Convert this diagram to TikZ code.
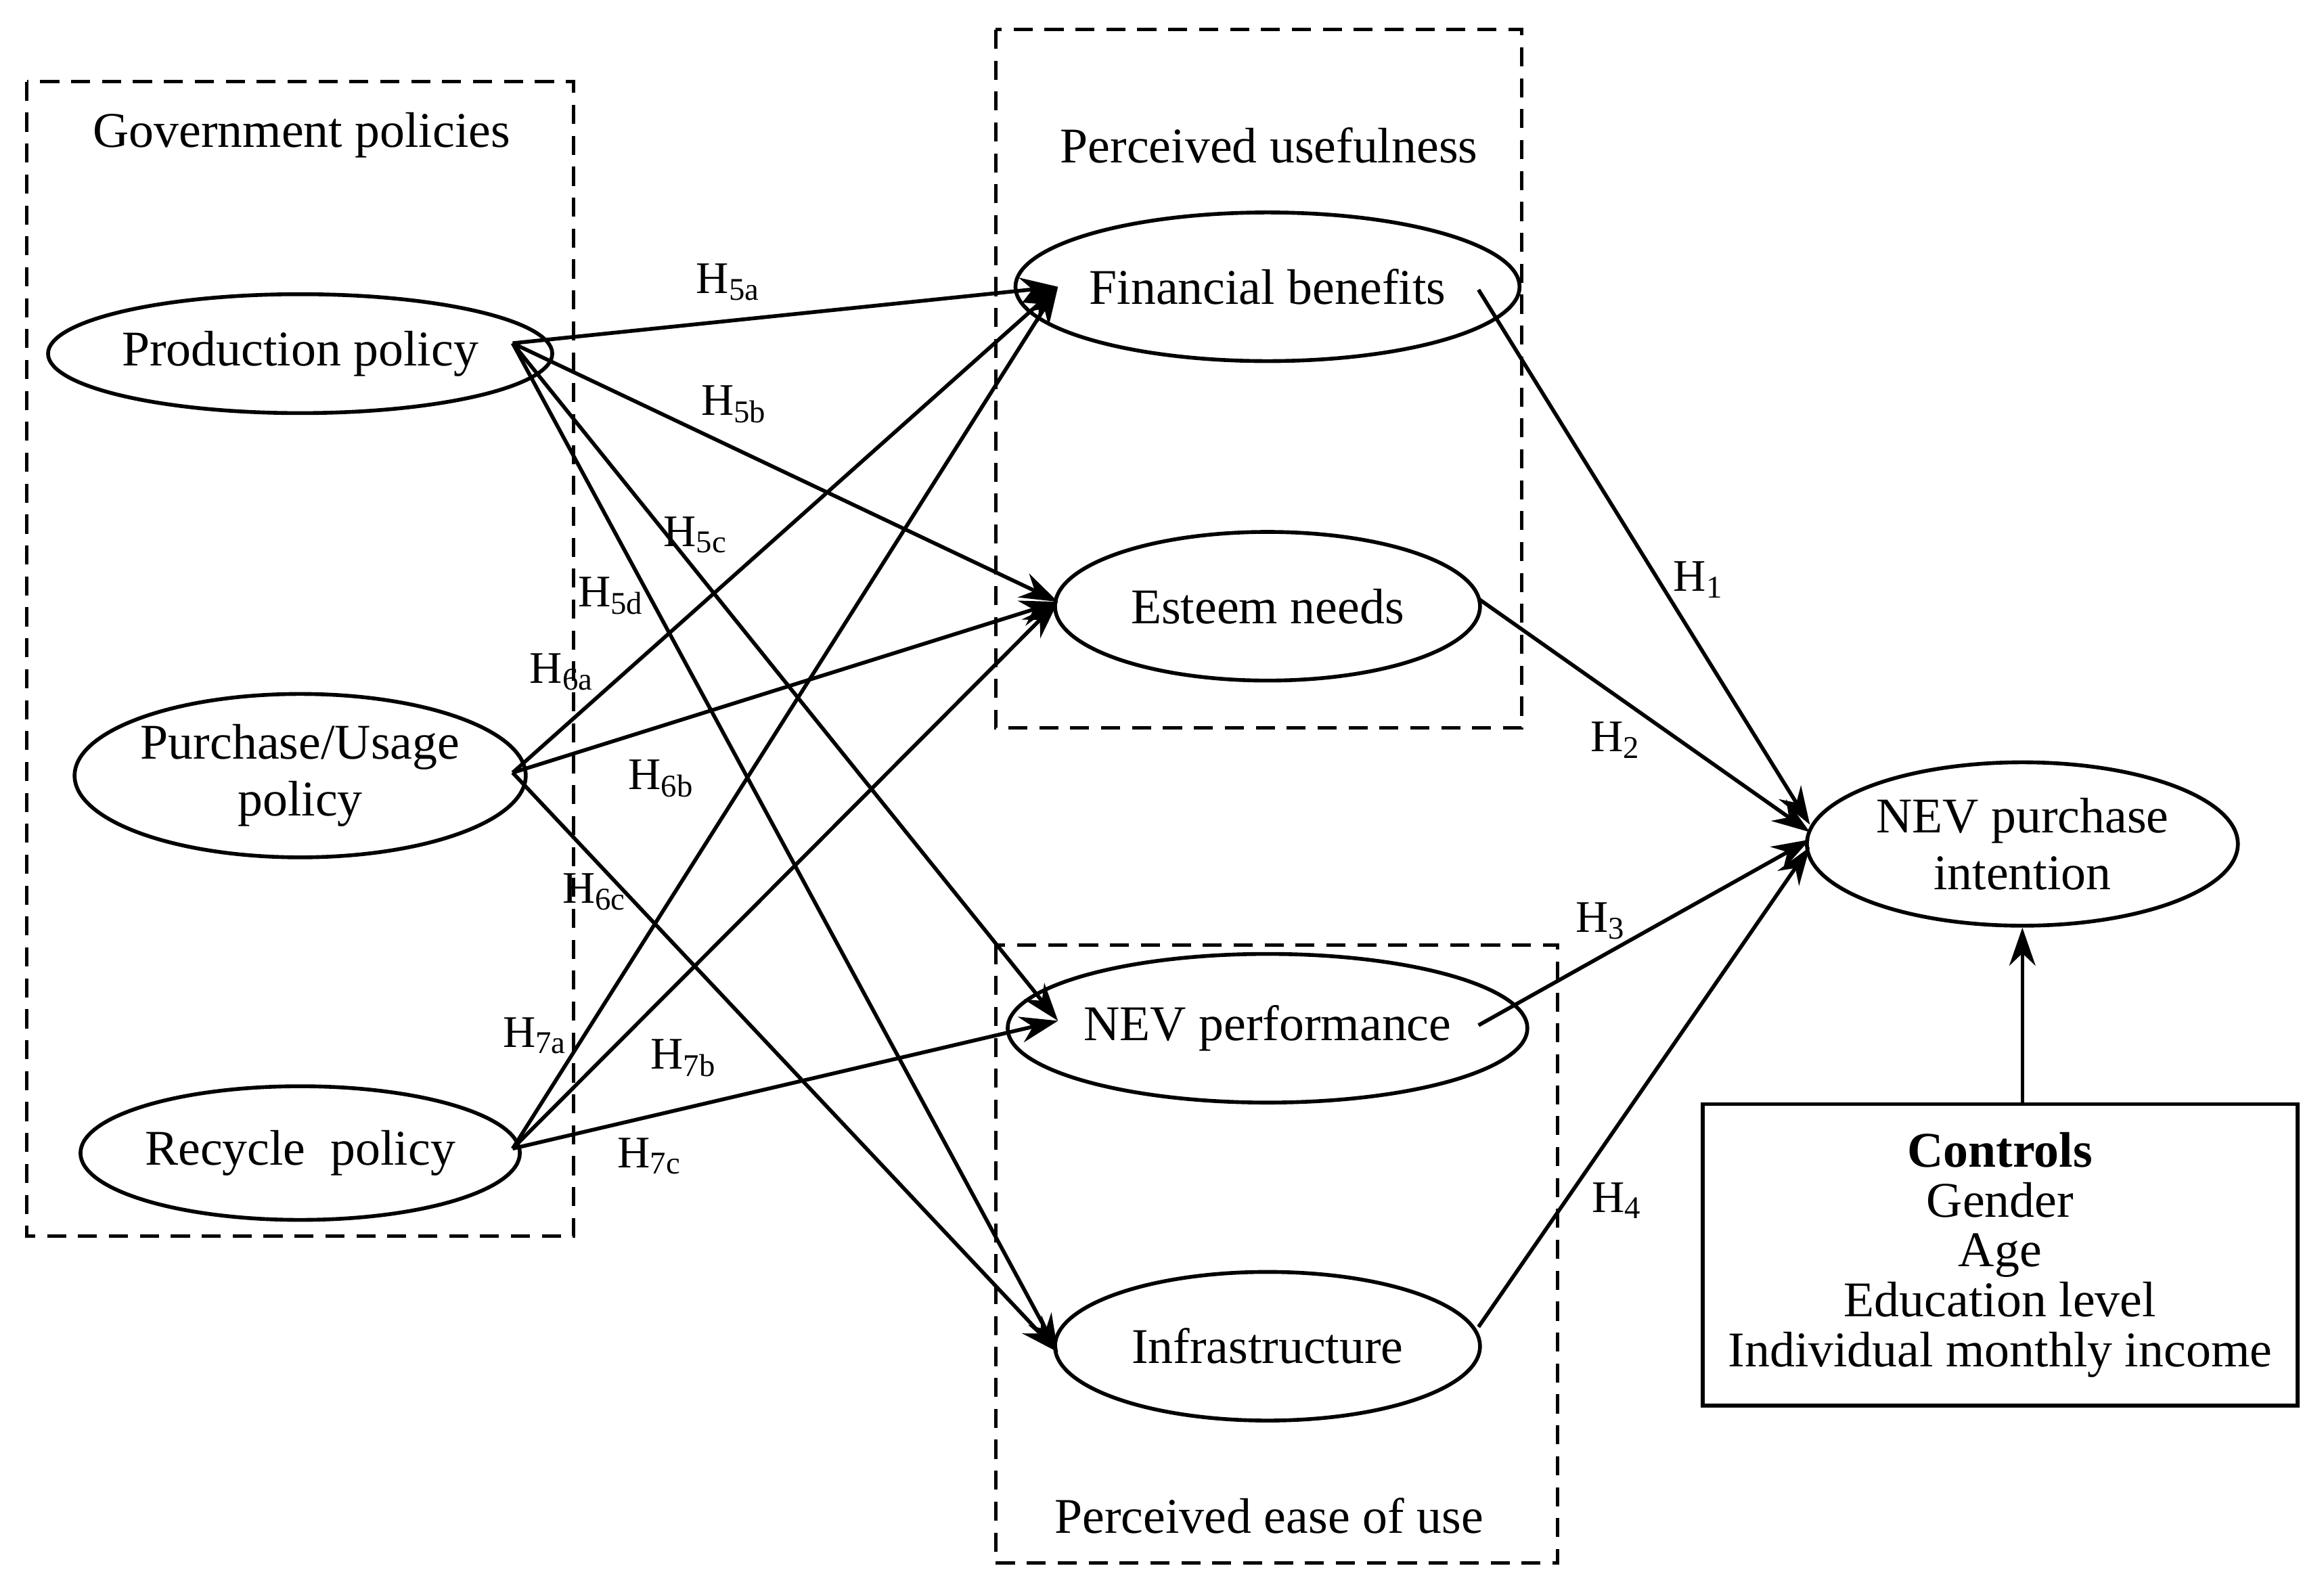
\documentclass[tikz,border=0pt]{standalone}
\usepackage{fontspec}
\setmainfont{Liberation Serif}
\usetikzlibrary{shapes.geometric,arrows.meta}
\begin{document}
\begin{tikzpicture}[x=0.02196cm,y=-0.02196cm,
  every node/.style={font=\fontsize{21}{24}\selectfont},
  el/.style={draw,ellipse,line width=1.6pt,inner sep=0pt},
  box/.style={draw,dashed,line width=1.4pt,dash pattern=on 8pt off 5pt},
  ar/.style={line width=1.6pt,-{Stealth[length=16pt,width=11pt]}},
  lab/.style={font=\fontsize{19}{22}\selectfont}]
\useasboundingbox (0,0) rectangle (1564,1069);
\draw[box] (18,55) rectangle (386,832);
\draw[box] (670,20) rectangle (1024,490);
\draw[box] (670,636) rectangle (1048,1052);
\node (tg) at (203,91) {Government policies};
\node (tu) at (854,98) {Perceived usefulness};
\node (te) at (854,1020) {Perceived ease of use};
\node[el,minimum width=178.7pt,minimum height=50pt] (pp) at (202,238) {Production policy};
\node[el,minimum width=178.7pt,minimum height=68.7pt,align=center] (pu) at (202,522) {Purchase/Usage\\policy};
\node[el,minimum width=178.7pt,minimum height=56.2pt] (rp) at (202,776) {Recycle\ \ policy};
\node[el,minimum width=178.7pt,minimum height=62.5pt] (fb) at (853,193) {Financial benefits};
\node[el,minimum width=178.7pt,minimum height=62.5pt] (en) at (853,408) {Esteem needs};
\node[el,minimum width=178.7pt,minimum height=62.5pt] (np) at (853,692) {NEV performance};
\node[el,minimum width=178.7pt,minimum height=62.5pt] (in) at (853,906) {Infrastructure};
\node[el,minimum width=181.2pt,minimum height=68.7pt,align=center] (pi) at (1361,568) {NEV purchase\\intention};
\node[draw,line width=1.6pt,minimum width=250pt,minimum height=126.8pt,align=center] (ct) at (1346,844.5)
  {\textbf{Controls}\\[-3pt]Gender\\[-3pt]Age\\[-3pt]Education level\\[-3pt]Individual monthly income};
\coordinate (ppe) at (345,231);
\coordinate (pue) at (345,520);
\coordinate (rpe) at (345,773);
\coordinate (fbw) at (712,193);
\coordinate (enw) at (712,405);
\coordinate (npw) at (712,687);
\coordinate (inw) at (712,910);
\foreach \s in {ppe,pue,rpe}{\foreach \t in {fbw,enw}{\draw[ar] (\s) -- (\t);}}
\draw[ar] (ppe) -- (npw);
\draw[ar] (ppe) -- (inw);
\draw[ar] (pue) -- (inw);
\draw[ar] (rpe) -- (npw);
\coordinate (fbe) at (995,195);
\coordinate (ene) at (995,403);
\coordinate (npe) at (995,690);
\coordinate (ine) at (995,893);
\draw[ar] (fbe) -- (1218,555);
\draw[ar] (ene) -- (1218,560);
\draw[ar] (npe) -- (1218,565);
\draw[ar] (ine) -- (1218,570);
\draw[ar] (ct.north -| pi.south) -- (pi.south);
\node[lab] at (490,190) {H\textsubscript{5a}};
\node[lab] at (494,272) {H\textsubscript{5b}};
\node[lab] at (468,360) {H\textsubscript{5c}};
\node[lab] at (411,401) {H\textsubscript{5d}};
\node[lab] at (378,452) {H\textsubscript{6a}};
\node[lab] at (445,524) {H\textsubscript{6b}};
\node[lab] at (400,600) {H\textsubscript{6c}};
\node[lab] at (360,697) {H\textsubscript{7a}};
\node[lab] at (460,712) {H\textsubscript{7b}};
\node[lab] at (437,778) {H\textsubscript{7c}};
\node[lab] at (1143,390) {H\textsubscript{1}};
\node[lab] at (1087,498) {H\textsubscript{2}};
\node[lab] at (1077,620) {H\textsubscript{3}};
\node[lab] at (1088,808) {H\textsubscript{4}};
\end{tikzpicture}
\end{document}
